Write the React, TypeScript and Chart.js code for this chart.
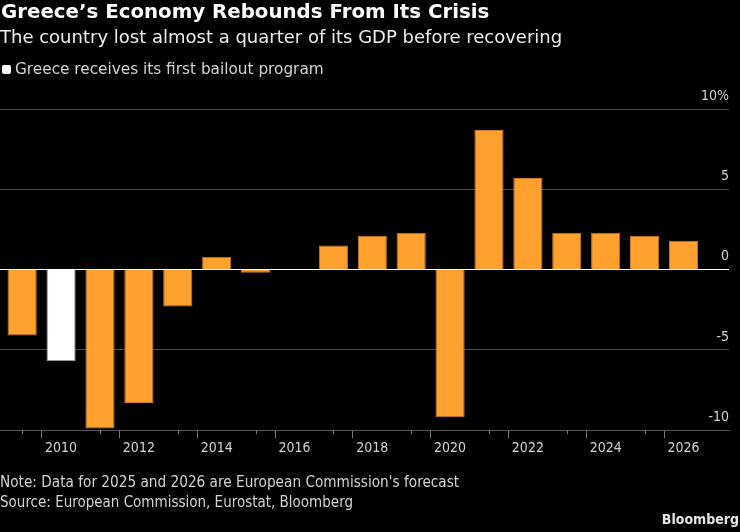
import React, { useEffect, useRef } from 'react';
import { Chart, registerables } from 'chart.js';

Chart.register(...registerables);

// ---- Data ----
const years = [2009, 2010, 2011, 2012, 2013, 2014, 2015, 2016, 2017, 2018, 2019, 2020, 2021, 2022, 2023, 2024, 2025, 2026];
const gdpGrowth = [-4.1, -5.7, -9.9, -8.3, -2.3, 0.8, -0.2, 0, 1.5, 2.1, 2.3, -9.2, 8.7, 5.7, 2.3, 2.3, 2.1, 1.8];
const highlightYear = 2010;
const yTickValues = [-10, -5, 0, 5, 10];
const xLabelYears = [2010, 2012, 2014, 2016, 2018, 2020, 2022, 2024, 2026];

const TITLE = 'Greece’s Economy Rebounds From Its Crisis';
const SUBTITLE = 'The country lost almost a quarter of its GDP before recovering';
const LEGEND_TEXT = 'Greece receives its first bailout program';
const NOTE = "Note: Data for 2025 and 2026 are European Commission's forecast";
const SOURCE = 'Source: European Commission, Eurostat, Bloomberg';

const FONT = "'DejaVu Sans Condensed', 'DejaVu Sans', sans-serif";
const FONT_WIDE = "'DejaVu Sans', sans-serif";
const ORANGE = '#ffa02f';
const ORANGE_EDGE = '#c97a22';
const WHITE = '#ffffff';
const TEXT_GREY = '#d2d2d2';
const GRID = '#4a4a4a';

const minorTicks = {
  id: 'minorTicks',
  afterDraw(chart: any) {
    const xs = chart.scales.x;
    const ctx = chart.ctx;
    const base = chart.chartArea.bottom;
    ctx.save();
    ctx.strokeStyle = '#777';
    ctx.lineWidth = 1;
    years
      .filter((y) => !xLabelYears.includes(y))
      .forEach((y) => {
        const px = Math.round(xs.getPixelForValue(y)) + 0.5;
        ctx.beginPath();
        ctx.moveTo(px, base);
        ctx.lineTo(px, base + 4);
        ctx.stroke();
      });
    ctx.restore();
  },
};

export default function App() {
  const ref = useRef<HTMLCanvasElement | null>(null);

  useEffect(() => {
    if (!ref.current) return;
    const chart = new Chart(ref.current, {
      type: 'bar',
      data: {
        datasets: [
          {
            data: years.map((y, i) => ({ x: y, y: gdpGrowth[i] })),
            backgroundColor: years.map((y) => (y === highlightYear ? WHITE : ORANGE)),
            borderColor: years.map((y) => (y === highlightYear ? '#9a9a9a' : ORANGE_EDGE)),
            borderWidth: 1,
            categoryPercentage: 1,
            barPercentage: 0.75,
          },
        ],
      },
      options: {
        responsive: false,
        animation: false,
        devicePixelRatio: 1,
        layout: { padding: { top: 109, right: 11, left: 0, bottom: 73 } },
        plugins: { legend: { display: false }, tooltip: { enabled: false } },
        scales: {
          x: {
            type: 'linear',
            min: 2008.43,
            max: 2027.17,
            offset: false,
            afterBuildTicks: (s: any) => {
              s.ticks = years.map((v) => ({ value: v }));
            },
            grid: {
              drawOnChartArea: false,
              drawTicks: true,
              tickLength: 8,
              tickColor: (c: any) =>
                c.tick && xLabelYears.includes(c.tick.value) ? '#777' : 'rgba(0,0,0,0)',
            },
            border: { display: true, color: '#555', width: 1 },
            ticks: {
              autoSkip: false,
              maxRotation: 0,
              color: TEXT_GREY,
              padding: 2,
              font: { family: FONT, size: 14 },
              callback: (v: any) => (xLabelYears.includes(Number(v)) ? String(v) : ''),
            },
          },
          y: {
            position: 'right',
            min: -10,
            max: 10,
            afterBuildTicks: (s: any) => {
              s.ticks = yTickValues.map((v) => ({ value: v }));
            },
            grid: {
              color: (c: any) => (c.tick && c.tick.value === 0 ? '#ffffff' : GRID),
              drawTicks: false,
              lineWidth: 1,
            },
            border: { display: false },
            ticks: {
              mirror: true,
              padding: 0,
              labelOffset: -13,
              color: TEXT_GREY,
              font: { family: FONT, size: 14 },
              callback: (v: any) => (Number(v) === 10 ? '10%' : String(v)),
            },
          },
        },
      },
      plugins: [minorTicks],
    } as any);
    return () => chart.destroy();
  }, []);

  const abs = (extra: React.CSSProperties): React.CSSProperties => ({
    position: 'absolute',
    whiteSpace: 'nowrap',
    lineHeight: 1,
    fontFamily: FONT,
    ...extra,
  });

  return (
    <div
      style={{
        position: 'fixed',
        left: 0,
        top: 0,
        width: 740,
        height: 532,
        background: '#000',
        overflow: 'hidden',
      }}
    >
      <canvas
        ref={ref}
        width={740}
        height={532}
        style={{ position: 'absolute', left: 0, top: 0, width: 740, height: 532 }}
      />
      <div style={abs({ left: 1, top: 2, fontSize: 19.8, fontWeight: 'bold', color: '#fff', fontFamily: FONT_WIDE })}>{TITLE}</div>
      <div style={abs({ left: 0, top: 28, fontSize: 18, color: '#ececec', fontFamily: FONT_WIDE })}>{SUBTITLE}</div>
      <div
        style={{
          position: 'absolute',
          left: 2,
          top: 65,
          width: 9,
          height: 9,
          borderRadius: 2,
          background: '#fff',
        }}
      />
      <div style={abs({ left: 15, top: 62, fontSize: 15.3, color: TEXT_GREY, fontFamily: FONT_WIDE })}>{LEGEND_TEXT}</div>
      <div style={abs({ left: 0, top: 475, fontSize: 15.2, color: TEXT_GREY })}>{NOTE}</div>
      <div style={abs({ left: 0, top: 495, fontSize: 15, color: TEXT_GREY })}>{SOURCE}</div>
      <div style={abs({ right: 1, top: 512, fontSize: 14, fontWeight: 'bold', color: '#e6e6e6' })}>Bloomberg</div>
    </div>
  );
}
